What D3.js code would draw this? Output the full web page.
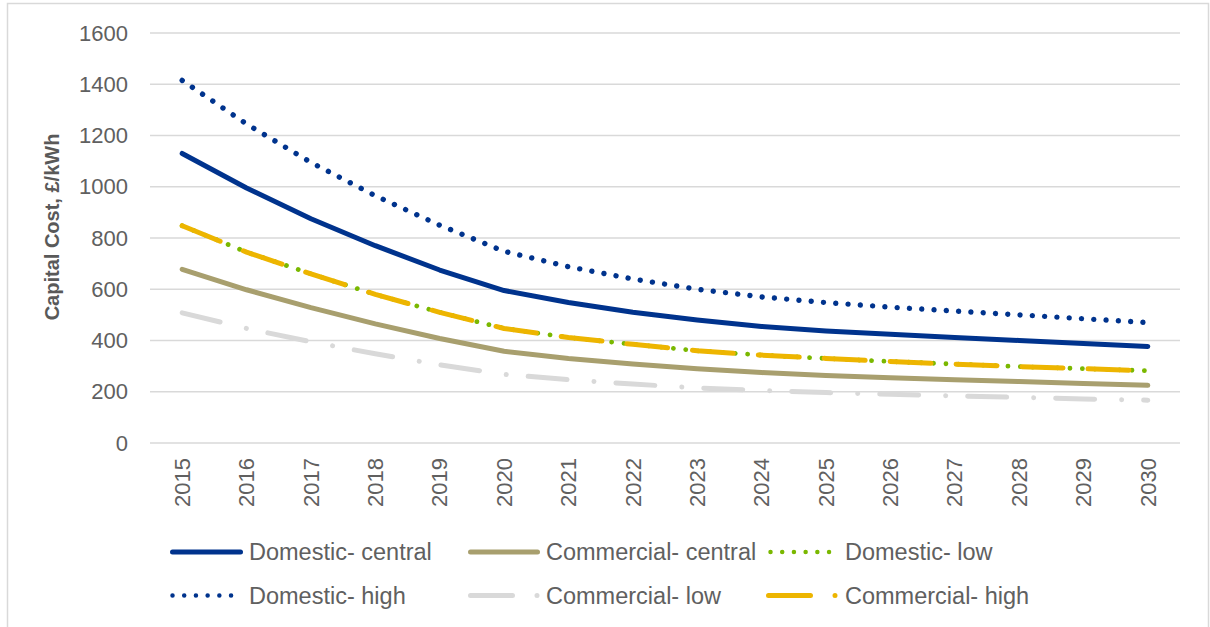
<!DOCTYPE html>
<html>
<head>
<meta charset="utf-8">
<script src="https://cdn.jsdelivr.net/npm/d3@7"></script>
<style>
  html, body { margin: 0; padding: 0; background: #fff; }
  svg { display: block; }
  text { font-family: "Liberation Sans", Arial, sans-serif; }
</style>
</head>
<body>
<svg id="chart" width="1210" height="627"></svg>
<script>
const years = ["2015","2016","2017","2018","2019","2020","2021","2022","2023","2024","2025","2026","2027","2028","2029","2030"];
const yTicks = [0, 200, 400, 600, 800, 1000, 1200, 1400, 1600];
const yLabel = "Capital Cost, £/kWh";

const domesticCentral   = [1130, 995, 875, 770, 675, 595, 548, 510, 480, 455, 437, 424, 412, 400, 388, 377];
const commercialCentral = [678, 598, 528, 465, 408, 358, 330, 308, 290, 275, 263, 255, 247, 240, 232, 225];
const domesticLow       = [848, 745, 660, 580, 510, 447, 412, 385, 360, 343, 330, 318, 308, 298, 290, 282];
const domesticHigh      = [1415, 1245, 1095, 965, 850, 748, 688, 640, 600, 570, 548, 530, 515, 500, 485, 470];
const commercialLow     = [508, 447, 395, 348, 305, 268, 247, 230, 215, 205, 197, 190, 184, 178, 172, 167];
const commercialHigh    = [848, 745, 660, 580, 510, 447, 412, 385, 360, 343, 330, 318, 308, 298, 290, 282];

const seriesNames = ["Domestic- central", "Commercial- central", "Domestic- low", "Domestic- high", "Commercial- low", "Commercial- high"];
const seriesValues = [domesticCentral, commercialCentral, domesticLow, domesticHigh, commercialLow, commercialHigh];

const styles = [
  { color: "#00338D", width: 5,   dash: null,             legendDash: null },
  { color: "#A89F6E", width: 5,   dash: null,             legendDash: null },
  { color: "#7AB800", width: 4.8, dash: "0.01,12.4",      legendDash: "0.01,11.7" },
  { color: "#00338D", width: 5.4, dash: "0.01,12.3",      legendDash: "0.01,11.7" },
  { color: "#D9D9D9", width: 5,   dash: "39,27,0.01,22",  legendDash: "42,24.5,0.01,100" },
  { color: "#EDB500", width: 5,   dash: "41,25",          legendDash: "42,24.5,0.01,100" }
];

const svg = d3.select("#chart");

// outer border
svg.append("rect")
  .attr("x", 7.5).attr("y", 3.5).attr("width", 1201).attr("height", 640)
  .attr("fill", "none").attr("stroke", "#D9D9D9").attr("stroke-width", 1.5);

const x = d3.scaleBand().domain(years).range([150, 1180]).padding(0);
const y = d3.scaleLinear().domain([0, 1600]).range([443, 33]);
const cx = d => x(d) + x.bandwidth() / 2;

// gridlines
svg.append("g").selectAll("line").data(yTicks).join("line")
  .attr("x1", 150).attr("x2", 1180)
  .attr("y1", d => y(d)).attr("y2", d => y(d))
  .attr("stroke", "#D9D9D9").attr("stroke-width", 1.5);

// y axis labels
const yAxis = d3.axisLeft(y).tickValues(yTicks).tickFormat(d3.format("d")).tickSize(0).tickPadding(0);
const gy = svg.append("g").attr("transform", "translate(128,0)").call(yAxis);
gy.select(".domain").remove();
gy.selectAll("text")
  .attr("font-size", 22).attr("fill", "#606060")
  .style("font-family", '"Liberation Sans", Arial, sans-serif');

// x axis labels
const xAxis = d3.axisBottom(x).tickSize(0).tickPadding(0);
const gx = svg.append("g").attr("transform", "translate(0,443)").call(xAxis);
gx.select(".domain").remove();
gx.selectAll("text")
  .attr("font-size", 22).attr("fill", "#606060")
  .attr("text-anchor", "end")
  .attr("transform", "rotate(-90)")
  .attr("x", -15).attr("y", 0).attr("dy", "0.35em")
  .style("font-family", '"Liberation Sans", Arial, sans-serif');

// y axis title
svg.append("text")
  .attr("transform", "translate(59,227) rotate(-90)")
  .attr("text-anchor", "middle")
  .attr("font-size", 20).attr("font-weight", "bold").attr("fill", "#595959")
  .text(yLabel);

// lines
const line = d3.line().x((d, i) => cx(years[i])).y(d => y(d));
seriesValues.forEach((vals, k) => {
  const s = styles[k];
  const p = svg.append("path")
    .datum(vals)
    .attr("d", line)
    .attr("fill", "none")
    .attr("stroke", s.color)
    .attr("stroke-width", s.width)
    .attr("stroke-linecap", "round")
    .attr("stroke-linejoin", "round");
  if (s.dash) p.attr("stroke-dasharray", s.dash);
});

// legend
const legendPos = [
  { lx: 172.5, tx: 249, y: 552 },
  { lx: 470.5, tx: 546, y: 552 },
  { lx: 770.5, tx: 845, y: 552 },
  { lx: 172.5, tx: 249, y: 595.5 },
  { lx: 470.5, tx: 546, y: 595.5 },
  { lx: 768.5, tx: 845, y: 595.5 }
];
const legendLen = [68, 67, 60, 62, 67, 67];
const lg = svg.append("g");
seriesNames.forEach((name, k) => {
  const s = styles[k], pos = legendPos[k];
  const l = lg.append("line")
    .attr("x1", pos.lx).attr("x2", pos.lx + legendLen[k])
    .attr("y1", pos.y).attr("y2", pos.y)
    .attr("stroke", s.color)
    .attr("stroke-width", k === 2 || k === 3 ? 4.5 : 5)
    .attr("stroke-linecap", "round");
  if (s.legendDash) l.attr("stroke-dasharray", s.legendDash);
  lg.append("text")
    .attr("x", pos.tx).attr("y", pos.y).attr("dy", "0.35em")
    .attr("font-size", 23.5).attr("fill", "#606060")
    .text(name);
});
</script>
</body>
</html>
